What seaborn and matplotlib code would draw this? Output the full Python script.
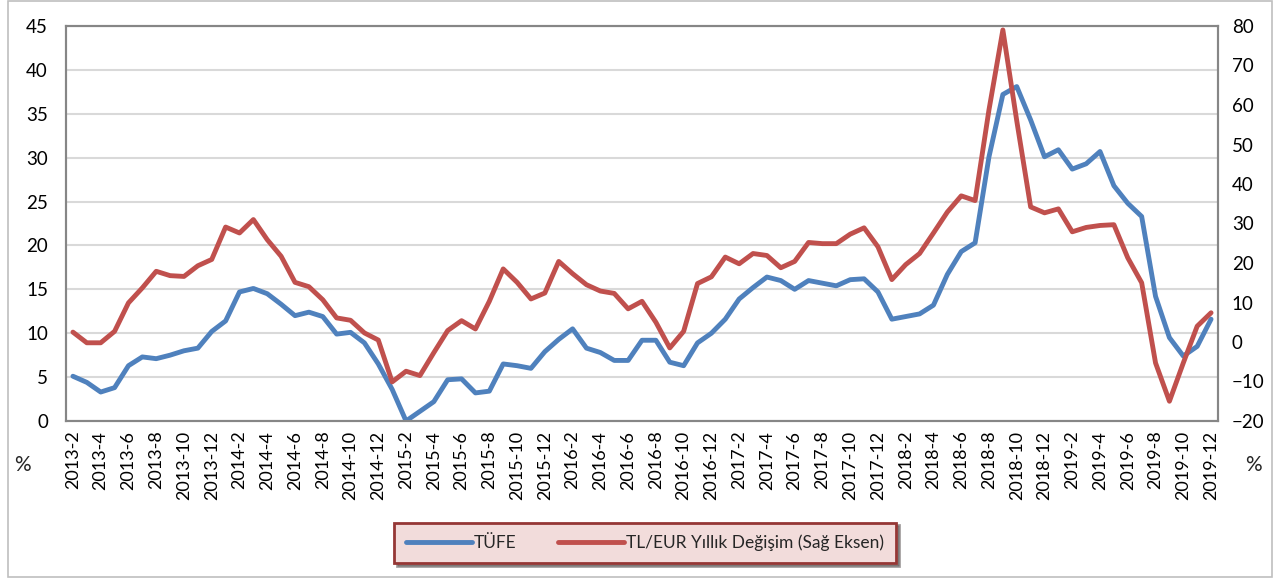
import pandas as pd
import seaborn as sns
from matplotlib import pyplot as plt
from matplotlib.lines import Line2D
from matplotlib.patches import Rectangle

# months 2013-2 .. 2019-12
months = [f'{p.year}-{p.month}' for p in pd.period_range('2013-02', '2019-12', freq='M')]

tufe = [5.1, 4.4, 3.3, 3.8, 6.3, 7.3, 7.1, 7.5, 8.0, 8.3,
        10.2, 11.4, 14.7, 15.1, 14.5, 13.3, 12.0, 12.4, 11.9, 9.9,
        10.1, 8.9, 6.5, 3.6, 0.0, 1.1, 2.2, 4.7, 4.8, 3.2,
        3.4, 6.5, 6.3, 6.0, 7.9, 9.3, 10.5, 8.3, 7.8, 6.9,
        6.9, 9.2, 9.2, 6.7, 6.3, 8.9, 10.0, 11.6, 13.9, 15.2,
        16.4, 16.0, 15.0, 16.0, 15.7, 15.4, 16.1, 16.2, 14.7, 11.6,
        11.9, 12.2, 13.2, 16.7, 19.3, 20.3, 30.1, 37.2, 38.1, 34.3,
        30.1, 30.9, 28.7, 29.3, 30.7, 26.8, 24.8, 23.3, 14.2, 9.5,
        7.4, 8.5, 11.6]

tl_eur = [2.5, -0.2, -0.2, 2.7, 9.9, 13.7, 17.9, 16.8, 16.6, 19.3,
          20.9, 29.1, 27.6, 31.0, 25.9, 21.7, 15.1, 14.0, 10.7, 6.1,
          5.5, 2.3, 0.5, -10.1, -7.4, -8.5, -2.7, 2.9, 5.4, 3.3,
          10.3, 18.5, 15.1, 10.9, 12.4, 20.4, 17.3, 14.5, 12.9, 12.3,
          8.4, 10.3, 5.0, -1.5, 2.7, 14.8, 16.5, 21.5, 19.8, 22.4,
          21.9, 18.8, 20.4, 25.2, 24.9, 24.9, 27.3, 28.9, 24.1, 15.8,
          19.6, 22.4, 27.6, 32.9, 37.0, 35.8, 58.8, 79.0, 56.0, 34.2,
          32.7, 33.7, 27.9, 29.0, 29.5, 29.7, 21.3, 15.0, -5.3, -15.0,
          -5.3, 4.0, 7.4]

left_ticks = list(range(0, 50, 5))
right_ticks = list(range(-20, 90, 10))
names = ['TÜFE', 'TL/EUR Yıllık Değişim (Sağ Eksen)']
colors = ['#4F81BD', '#C0504D']

sns.set_style('white')
plt.rcParams['font.family'] = ['Lato', 'DejaVu Sans']

df = pd.DataFrame({'i': range(len(months)), 'tufe': tufe, 'eur': tl_eur})

fig = plt.figure(figsize=(12.88, 5.81), dpi=100)
ax = fig.add_subplot(111)
fig.subplots_adjust(left=66 / 1288, right=1218 / 1288, top=1 - 26 / 581, bottom=1 - 421 / 581)
ax2 = ax.twinx()

sns.lineplot(data=df, x='i', y='tufe', ax=ax, color=colors[0], lw=3.5, zorder=3)
sns.lineplot(data=df, x='i', y='eur', ax=ax2, color=colors[1], lw=3.5, zorder=3)

ax.set_xlim(-0.5, len(months) - 0.5)
ax.set_ylim(0, 45)
ax2.set_ylim(-20, 80)
ax.set_yticks(left_ticks)
ax2.set_yticks(right_ticks)
ax.set_xticks(range(0, len(months), 2))
ax.set_xticklabels(months[::2], rotation=90)
ax.set(xlabel='', ylabel='')
ax2.set(ylabel='')

ax.yaxis.grid(True, color='#D9D9D9', lw=1.5)
ax.set_axisbelow(True)
for a in (ax, ax2):
    for s in a.spines.values():
        s.set_color('#868686')
        s.set_linewidth(1.5)
ax.tick_params(axis='y', length=0, pad=13, labelsize=13.5, colors='black')
ax2.tick_params(axis='y', length=0, pad=10, labelsize=13.5, colors='black')
ax.tick_params(axis='x', length=0, pad=7, labelsize=13, colors='black')

fig.text(14 / 1288, 1 - 465 / 581, '%', fontsize=15, ha='left', va='center')
fig.text(1245 / 1288, 1 - 465 / 581, '%', fontsize=15, ha='left', va='center')

handles = [Line2D([], [], color=c, lw=3.5) for c in colors]
leg = fig.legend(handles, names, loc='center', bbox_to_anchor=(645 / 1288, 1 - 543 / 581),
                 ncol=2, fontsize=12.5, frameon=True, fancybox=False, shadow=True,
                 handlelength=3.8, handletextpad=0.1, columnspacing=2.4,
                 borderpad=0.7, borderaxespad=0)
leg.get_frame().set_facecolor('#F2DCDB')
leg.get_frame().set_edgecolor('#953735')
leg.get_frame().set_linewidth(2)

fig.patches.append(Rectangle((8 / 1288, 4 / 581), 1264 / 1288, 576 / 581, transform=fig.transFigure,
                             fill=False, edgecolor='#BFBFBF', lw=1.2))

fig.savefig('out.png', dpi=100)
